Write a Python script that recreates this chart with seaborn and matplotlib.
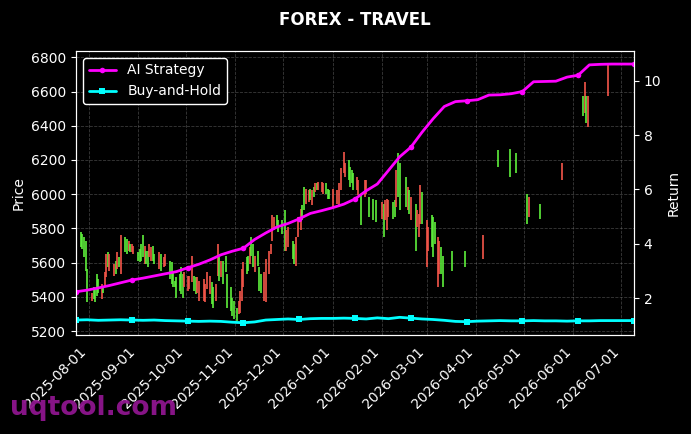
import pandas as pd
import matplotlib
matplotlib.use('Agg')
import matplotlib.pyplot as plt
import matplotlib.dates as mdates
import seaborn as sns

# Свічки (дата, мінімум, максимум, напрямок g/r)
candle_dates = [
    '2025-07-27', '2025-07-28', '2025-07-29', '2025-07-30', '2025-07-31', '2025-08-03', '2025-08-04',
    '2025-08-05', '2025-08-06', '2025-08-07', '2025-08-09', '2025-08-10', '2025-08-11', '2025-08-12',
    '2025-08-13', '2025-08-14', '2025-08-17', '2025-08-18', '2025-08-19', '2025-08-20', '2025-08-21',
    '2025-08-24', '2025-08-25', '2025-08-26', '2025-08-27', '2025-08-28', '2025-08-29', '2025-09-01',
    '2025-09-02', '2025-09-03', '2025-09-04', '2025-09-05', '2025-09-06', '2025-09-07', '2025-09-08',
    '2025-09-09', '2025-09-10', '2025-09-11', '2025-09-14', '2025-09-15', '2025-09-17', '2025-09-18',
    '2025-09-21', '2025-09-22', '2025-09-23', '2025-09-24', '2025-09-25', '2025-09-27', '2025-09-28',
    '2025-09-29', '2025-09-30', '2025-10-02', '2025-10-03', '2025-10-05', '2025-10-06', '2025-10-07',
    '2025-10-08', '2025-10-09', '2025-10-12', '2025-10-13', '2025-10-14', '2025-10-16', '2025-10-17',
    '2025-10-18', '2025-10-20', '2025-10-21', '2025-10-22', '2025-10-23', '2025-10-24', '2025-10-26',
    '2025-10-27', '2025-10-29', '2025-10-30', '2025-10-31', '2025-11-02', '2025-11-03', '2025-11-04',
    '2025-11-05', '2025-11-06', '2025-11-08', '2025-11-09', '2025-11-10', '2025-11-11', '2025-11-12',
    '2025-11-13', '2025-11-15', '2025-11-16', '2025-11-17', '2025-11-19', '2025-11-20', '2025-11-22',
    '2025-11-23', '2025-11-24', '2025-11-25', '2025-11-27', '2025-11-28', '2025-11-30', '2025-12-02',
    '2025-12-03', '2025-12-04', '2025-12-07', '2025-12-08', '2025-12-09', '2025-12-10', '2025-12-12',
    '2025-12-13', '2025-12-14', '2025-12-15', '2025-12-17', '2025-12-18', '2025-12-19', '2025-12-20',
    '2025-12-21', '2025-12-22', '2025-12-23', '2025-12-25', '2025-12-26', '2025-12-28', '2025-12-29',
    '2025-12-30', '2026-01-01', '2026-01-04', '2026-01-05', '2026-01-06', '2026-01-08', '2026-01-09',
    '2026-01-11', '2026-01-12', '2026-01-13', '2026-01-14', '2026-01-16', '2026-01-17', '2026-01-19',
    '2026-01-21', '2026-01-22', '2026-01-24', '2026-01-26', '2026-01-28', '2026-02-01', '2026-02-02',
    '2026-02-03', '2026-02-04', '2026-02-05', '2026-02-08', '2026-02-09', '2026-02-10', '2026-02-11',
    '2026-02-12', '2026-02-16', '2026-02-17', '2026-02-18', '2026-02-19', '2026-02-22', '2026-02-23',
    '2026-02-24', '2026-02-25', '2026-02-26', '2026-03-01', '2026-03-02', '2026-03-04', '2026-03-05',
    '2026-03-06', '2026-03-08', '2026-03-09', '2026-03-10', '2026-03-11', '2026-03-17', '2026-03-25',
    '2026-04-05', '2026-04-15', '2026-04-22', '2026-04-26', '2026-05-03', '2026-05-04', '2026-05-11',
    '2026-05-25', '2026-06-07', '2026-06-08', '2026-06-09', '2026-06-10', '2026-06-23',
]
candle_low = [
    5690, 5680, 5631, 5553, 5367, 5376, 5386, 5367, 5406, 5425, 5386, 5425, 5455, 5514,
    5572, 5553, 5523, 5533, 5563, 5572, 5533, 5661, 5651, 5670, 5661, 5661, 5651, 5612,
    5602, 5612, 5631, 5592, 5592, 5572, 5631, 5612, 5612, 5592, 5563, 5553, 5572, 5582,
    5504, 5474, 5455, 5455, 5396, 5435, 5416, 5396, 5455, 5435, 5445, 5484, 5435, 5416,
    5425, 5376, 5376, 5367, 5445, 5416, 5357, 5337, 5376, 5523, 5494, 5514, 5474, 5543,
    5337, 5317, 5288, 5268, 5259, 5298, 5308, 5376, 5455, 5533, 5553, 5592, 5641, 5572,
    5543, 5582, 5435, 5425, 5376, 5367, 5533, 5651, 5729, 5788, 5808, 5778, 5768, 5670,
    5670, 5690, 5621, 5592, 5582, 5749, 5788, 5847, 5906, 5945, 5955, 5965, 5935, 5984,
    6014, 6023, 6023, 6014, 6004, 6004, 5974, 5974, 5925, 5945, 5925, 6023, 6121, 6102,
    6082, 6043, 6063, 6023, 6023, 5994, 5818, 5984, 6004, 5867, 5847, 5837, 5857, 5749,
    5847, 5788, 5867, 5857, 5867, 5925, 5984, 5906, 5925, 5906, 5886, 5847, 5670, 5808,
    5749, 5827, 5827, 5572, 5670, 5690, 5631, 5710, 5455, 5533, 5533, 5455, 5553, 5572,
    5621, 6161, 6102, 6121, 5827, 5866, 5857, 6082, 6455, 6474, 6416, 6392, 6572,
]
candle_high = [
    5778, 5769, 5749, 5729, 5563, 5425, 5455, 5445, 5533, 5504, 5474, 5465, 5543, 5651,
    5661, 5651, 5592, 5612, 5661, 5631, 5759, 5749, 5739, 5729, 5710, 5710, 5700, 5661,
    5680, 5710, 5759, 5700, 5670, 5670, 5710, 5690, 5700, 5651, 5661, 5651, 5631, 5651,
    5612, 5602, 5553, 5494, 5514, 5533, 5573, 5533, 5543, 5523, 5523, 5641, 5523, 5514,
    5514, 5494, 5504, 5474, 5543, 5523, 5484, 5455, 5474, 5710, 5631, 5612, 5612, 5641,
    5533, 5455, 5396, 5376, 5337, 5376, 5435, 5563, 5602, 5631, 5641, 5690, 5749, 5710,
    5641, 5670, 5573, 5533, 5543, 5622, 5670, 5710, 5876, 5867, 5876, 5847, 5847, 5906,
    5788, 5808, 5729, 5710, 5749, 5867, 5916, 5935, 6043, 6033, 6023, 6033, 6023, 6043,
    6063, 6063, 6072, 6072, 6063, 6063, 6033, 6023, 6033, 6023, 6063, 6151, 6249, 6180,
    6200, 6161, 6141, 6121, 6102, 6082, 5994, 6082, 6082, 5984, 5974, 5965, 5955, 5945,
    5965, 5974, 5965, 5955, 5965, 6141, 6239, 6180, 6102, 6043, 6023, 5984, 5945, 5906,
    5886, 6053, 6014, 5847, 5808, 5876, 5867, 5837, 5749, 5729, 5690, 5641, 5670, 5670,
    5759, 6259, 6265, 6239, 6000, 5984, 5941, 6180, 6576, 6655, 6572, 6572, 6759,
]
# по 7 свічок у групі, так само як рядки дат
candle_dir = (
    'gggggrg' 'gggrgrr' 'grrgrgr' 'ggrgrrg' 'gggrggr' 'rggrgrr' 'ggggggg'
    'grrrrgg' 'rrrrrrg' 'grrgrgg' 'gggggrr' 'rrggrgg' 'rgggrrr' 'rrrgggg'
    'rrggrrr' 'ggrrgrg' 'rgrrrgg' 'grrrrrr' 'ggggrrg' 'rrgggrg' 'rrrggrg'
    'ggrgrgr' 'rrgrrgg' 'grrgggg' 'rggggrg' 'rgrgrr'
)

# Дохідність стратегій (щотижня)
line_start = '2025-07-24'
ai_return = [
    2.24, 2.30, 2.38, 2.47, 2.57, 2.67, 2.74, 2.82, 2.90, 2.98,
    3.12, 3.25, 3.41, 3.60, 3.73, 3.84, 4.16, 4.40, 4.62, 4.75,
    4.92, 5.12, 5.22, 5.33, 5.46, 5.65, 5.95, 6.20, 6.70, 7.20,
    7.55, 8.10, 8.60, 9.05, 9.23, 9.26, 9.30, 9.47, 9.48, 9.52,
    9.60, 9.96, 9.97, 9.98, 10.13, 10.20, 10.58, 10.60, 10.61, 10.61, 10.61,
]
bh_return = [
    1.20, 1.21, 1.19, 1.20, 1.21, 1.20, 1.19, 1.20, 1.18, 1.17,
    1.16, 1.15, 1.16, 1.15, 1.12, 1.10, 1.13, 1.20, 1.22, 1.24,
    1.22, 1.25, 1.26, 1.26, 1.27, 1.26, 1.24, 1.28, 1.25, 1.30,
    1.27, 1.24, 1.22, 1.19, 1.15, 1.14, 1.16, 1.17, 1.18, 1.17,
    1.17, 1.18, 1.17, 1.17, 1.16, 1.17, 1.17, 1.18, 1.18, 1.18, 1.18,
]

plt.style.use('dark_background')
sns.set_style('dark', {'axes.facecolor': 'black', 'figure.facecolor': 'black'})
plt.rcParams['font.family'] = ['DejaVu Sans']

green = '#5EF03C'
red = '#F5564A'

fig, ax = plt.subplots(figsize=(6.91, 4.34), dpi=100)
fig.patch.set_facecolor('black')
ax.set_facecolor('black')
fig.subplots_adjust(left=0.110, right=0.9175, top=0.8825, bottom=0.2281)

cdates = pd.to_datetime(candle_dates)
colors = [green if c == 'g' else red for c in candle_dir]
ax.vlines(cdates, candle_low, candle_high, colors=colors, linewidth=1.2, zorder=2)

ax.set_ylim(5177, 6837)
ax.set_ylabel('Price', color='white', fontsize=10)
ax.grid(True, color='gray', linestyle='--', linewidth=0.6, alpha=0.45)
ax.tick_params(colors='white', labelsize=10)
for s in ax.spines.values():
    s.set_color('white')

ax2 = ax.twinx()
line_dates = pd.date_range(line_start, periods=len(ai_return), freq='7D')
sns.lineplot(x=line_dates, y=ai_return, ax=ax2, color='#FF00FF', linewidth=2,
             marker='o', markersize=4, markevery=5, markeredgewidth=0, label='AI Strategy')
sns.lineplot(x=line_dates, y=bh_return, ax=ax2, color='#00FFFF', linewidth=2,
             marker='s', markersize=4, markevery=5, markeredgewidth=0, label='Buy-and-Hold')
ax2.set_ylim(0.65, 11.09)
ax2.set_ylabel('Return', color='white', fontsize=10)
ax2.tick_params(colors='white', labelsize=10)
ax2.grid(False)
for s in ax2.spines.values():
    s.set_color('white')

ax.set_xlim(line_dates[0], line_dates[-1])
ax.xaxis.set_major_locator(mdates.MonthLocator())
ax.xaxis.set_major_formatter(mdates.DateFormatter('%Y-%m-%d'))
plt.setp(ax.get_xticklabels(), rotation=45, ha='right')

leg = ax2.legend(loc='upper left', facecolor='black', edgecolor='white',
                 labelcolor='white', fontsize=10, framealpha=1)

ax.set_title('FOREX - TRAVEL', color='white', fontweight='bold', fontsize=12, pad=19)

fig.text(0.014, 0.06, 'uqtool.com', color='#8E168E', fontsize=19,
         fontweight='bold', va='center', alpha=0.95)

fig.savefig('out.png', dpi=100, facecolor='black')
